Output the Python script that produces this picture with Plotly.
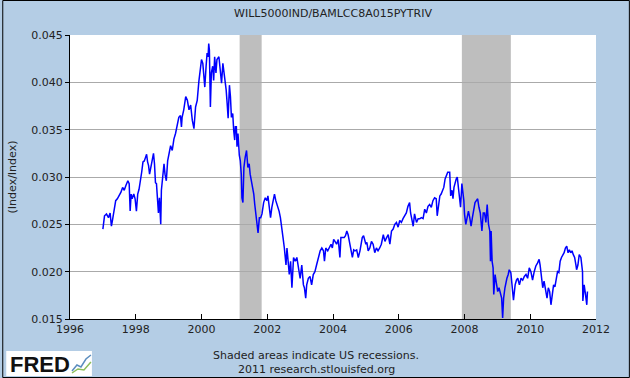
import plotly.graph_objects as go

title_text = "WILL5000IND/BAMLCC8A015PYTRIV"
y_label = "(Index/Index)"

years = [
1997.00,1997.02,1997.05,1997.11,1997.17,1997.22,1997.26,1997.29,1997.34,1997.39,1997.44,1997.49,1997.55,1997.60,1997.65,1997.70,1997.76,1997.80,1997.83,1997.86,1997.89,1997.94,1997.98,
1998.02,1998.06,1998.10,1998.14,1998.18,1998.22,1998.26,1998.30,1998.33,1998.36,1998.39,1998.42,1998.46,1998.51,1998.54,1998.57,1998.60,1998.63,1998.66,1998.69,1998.72,1998.76,1998.78,1998.83,1998.86,1998.89,1998.93,1998.97,
1999.01,1999.06,1999.11,1999.16,1999.21,1999.26,1999.31,1999.36,1999.39,1999.41,1999.46,1999.52,1999.57,1999.62,1999.67,1999.72,1999.77,1999.82,1999.87,1999.92,1999.97,
2000.00,2000.04,2000.07,2000.10,2000.14,2000.17,2000.20,2000.22,2000.24,2000.27,2000.30,2000.34,2000.37,2000.40,2000.44,2000.47,2000.53,2000.58,2000.61,2000.65,2000.71,2000.75,2000.78,2000.81,2000.85,2000.88,2000.91,2000.95,2000.98,
2001.01,2001.03,2001.06,2001.08,2001.11,2001.15,2001.18,2001.21,2001.23,2001.26,2001.29,2001.33,2001.37,2001.41,2001.45,2001.48,2001.54,2001.59,2001.62,2001.66,2001.72,2001.76,2001.80,2001.84,2001.89,2001.94,2001.99,
2002.02,2002.06,2002.10,2002.14,2002.19,2002.22,2002.26,2002.32,2002.36,2002.40,2002.44,2002.48,2002.52,2002.57,2002.60,2002.63,2002.67,2002.71,2002.75,2002.80,2002.85,2002.90,2002.95,
2003.00,2003.05,2003.10,2003.13,2003.17,2003.20,2003.25,2003.30,2003.35,2003.40,2003.45,2003.50,2003.55,2003.61,2003.66,2003.71,2003.74,2003.78,2003.84,2003.88,2003.94,2003.98,
2004.02,2004.06,2004.11,2004.16,2004.21,2004.24,2004.28,2004.34,2004.38,2004.42,2004.46,2004.52,2004.55,2004.59,2004.63,2004.67,2004.72,2004.77,2004.82,2004.85,2004.89,2004.93,2004.97,
2005.00,2005.03,2005.07,2005.12,2005.17,2005.22,2005.27,2005.32,2005.37,2005.42,2005.47,2005.53,2005.58,2005.63,2005.68,2005.73,2005.78,2005.83,2005.88,2005.93,2005.98,
2006.03,2006.08,2006.13,2006.18,2006.23,2006.28,2006.33,2006.36,2006.40,2006.44,2006.48,2006.54,2006.59,2006.64,2006.69,2006.74,2006.79,2006.84,2006.89,2006.94,2006.99,
2007.04,2007.09,2007.14,2007.17,2007.21,2007.25,2007.29,2007.34,2007.37,2007.41,2007.44,2007.49,2007.55,2007.58,2007.62,2007.65,2007.68,2007.72,2007.75,2007.78,2007.82,2007.86,2007.88,2007.92,2007.95,2007.98,
2008.00,2008.04,2008.08,2008.12,2008.16,2008.20,2008.24,2008.28,2008.32,2008.36,2008.40,2008.44,2008.48,2008.53,2008.57,2008.61,2008.65,2008.69,2008.73,2008.77,2008.79,2008.81,2008.84,2008.87,2008.89,2008.93,2008.97,
2009.01,2009.05,2009.09,2009.13,2009.16,2009.19,2009.23,2009.26,2009.29,2009.33,2009.36,2009.41,2009.46,2009.49,2009.54,2009.58,2009.62,2009.67,2009.72,2009.77,2009.82,2009.87,2009.92,2009.97,
2010.02,2010.07,2010.12,2010.17,2010.22,2010.27,2010.30,2010.34,2010.38,2010.42,2010.46,2010.51,2010.55,2010.59,2010.63,2010.67,2010.71,2010.75,2010.79,2010.83,2010.87,2010.91,2010.95,2010.99,
2011.03,2011.07,2011.11,2011.15,2011.19,2011.23,2011.27,2011.31,2011.35,2011.39,2011.41,2011.45,2011.49,2011.54,2011.57,2011.59,2011.60,2011.64,2011.68,2011.70,2011.72,2011.74,
]

ratio = [
0.0245,0.0250,0.0259,0.0261,0.0257,0.0262,0.0248,0.0254,0.0266,0.0275,0.0277,0.0280,0.0284,0.0289,0.0286,0.0291,0.0296,0.0293,0.0264,0.0282,0.0277,0.0282,0.0277,
0.0264,0.0282,0.0287,0.0294,0.0305,0.0316,0.0317,0.0321,0.0324,0.0316,0.0312,0.0303,0.0310,0.0321,0.0325,0.0314,0.0294,0.0293,0.0271,0.0262,0.0278,0.0250,0.0286,0.0307,0.0314,0.0303,0.0296,0.0317,
0.0325,0.0333,0.0328,0.0340,0.0346,0.0353,0.0363,0.0365,0.0353,0.0363,0.0371,0.0385,0.0381,0.0371,0.0376,0.0360,0.0351,0.0374,0.0381,0.0401,0.0413,
0.0424,0.0420,0.0402,0.0395,0.0417,0.0431,0.0427,0.0441,0.0434,0.0374,0.0410,0.0417,0.0402,0.0427,0.0410,0.0424,0.0427,0.0410,0.0399,0.0420,0.0406,0.0392,0.0378,0.0362,0.0397,0.0385,0.0363,0.0367,0.0349,
0.0339,0.0353,0.0353,0.0332,0.0346,0.0323,0.0317,0.0303,0.0278,0.0273,0.0310,0.0321,0.0328,0.0310,0.0314,0.0303,0.0291,0.0282,0.0271,0.0257,0.0241,0.0257,0.0257,0.0261,0.0273,0.0278,0.0275,
0.0280,0.0264,0.0257,0.0268,0.0278,0.0282,0.0275,0.0269,0.0264,0.0257,0.0243,0.0236,0.0225,0.0207,0.0225,0.0215,0.0197,0.0211,0.0183,0.0215,0.0211,0.0215,0.0204,
0.0193,0.0207,0.0186,0.0183,0.0172,0.0186,0.0193,0.0195,0.0186,0.0197,0.0200,0.0207,0.0215,0.0222,0.0225,0.0222,0.0211,0.0225,0.0222,0.0225,0.0229,0.0225,
0.0234,0.0232,0.0229,0.0234,0.0215,0.0236,0.0236,0.0236,0.0238,0.0243,0.0239,0.0229,0.0222,0.0215,0.0223,0.0222,0.0223,0.0215,0.0222,0.0229,0.0236,0.0238,0.0232,
0.0229,0.0231,0.0222,0.0225,0.0232,0.0229,0.0220,0.0225,0.0222,0.0225,0.0229,0.0239,0.0232,0.0236,0.0239,0.0229,0.0243,0.0245,0.0250,0.0252,0.0247,
0.0254,0.0252,0.0256,0.0259,0.0262,0.0269,0.0273,0.0262,0.0256,0.0248,0.0261,0.0252,0.0256,0.0256,0.0257,0.0256,0.0266,0.0262,0.0269,0.0271,0.0268,
0.0275,0.0278,0.0277,0.0259,0.0271,0.0280,0.0282,0.0286,0.0289,0.0298,0.0301,0.0305,0.0305,0.0280,0.0286,0.0277,0.0289,0.0296,0.0298,0.0300,0.0289,0.0275,0.0268,0.0293,0.0286,0.0275,
0.0261,0.0250,0.0257,0.0264,0.0257,0.0248,0.0257,0.0268,0.0273,0.0275,0.0277,0.0268,0.0262,0.0243,0.0262,0.0262,0.0252,0.0271,0.0250,0.0243,0.0211,0.0243,0.0211,0.0204,0.0176,0.0197,0.0186,
0.0179,0.0183,0.0176,0.0172,0.0151,0.0172,0.0183,0.0191,0.0193,0.0197,0.0202,0.0199,0.0179,0.0170,0.0186,0.0191,0.0193,0.0186,0.0193,0.0191,0.0195,0.0197,0.0193,0.0204,
0.0200,0.0191,0.0200,0.0206,0.0209,0.0213,0.0207,0.0193,0.0183,0.0190,0.0181,0.0172,0.0183,0.0179,0.0165,0.0176,0.0186,0.0184,0.0191,0.0200,0.0199,0.0211,0.0215,0.0218,
0.0220,0.0225,0.0227,0.0220,0.0223,0.0220,0.0222,0.0218,0.0215,0.0207,0.0202,0.0207,0.0218,0.0215,0.0204,0.0200,0.0169,0.0186,0.0176,0.0172,0.0165,0.0179,
]

recession_start = [2001.16, 2007.92]
recession_end = [2001.83, 2009.41]

x_ticks = [1996, 1998, 2000, 2002, 2004, 2006, 2008, 2010, 2012]
y_ticks = [0.015, 0.020, 0.025, 0.030, 0.035, 0.040, 0.045]

BG = "#B4CDE5"
FONT = "DejaVu Sans"

fig = go.Figure()
fig.add_trace(go.Scatter(x=years, y=ratio, mode="lines",
                         line=dict(color="#0000FF", width=1.5),
                         hoverinfo="skip", showlegend=False))

for s, e in zip(recession_start, recession_end):
    fig.add_shape(type="rect", xref="x", yref="paper", x0=s, x1=e, y0=0, y1=1,
                  fillcolor="#BEBEBE", line=dict(width=0), layer="between")

L, R, T, B = 68, 34, 35, 59
W, H = 630, 378
pw, ph = W - L - R, H - T - B

# outer border
fig.add_shape(type="rect", xref="paper", yref="paper",
              x0=(-L + 0.5) / pw, x1=1 + (R - 0.5) / pw,
              y0=(-B + 0.5) / ph, y1=1 + (T - 0.5) / ph,
              line=dict(color="#000000", width=1), fillcolor="rgba(0,0,0,0)", layer="above")

# FRED logo box
fig.add_shape(type="rect", xref="paper", yref="paper",
              x0=(4 - L) / pw, x1=(90 - L) / pw,
              y0=1 - (376 - T) / ph, y1=1 - (351 - T) / ph,
              fillcolor="#FFFFFF", line=dict(width=0), layer="above")
# small chart icon of the logo
fig.add_shape(type="path", xref="paper", yref="paper",
              path="M {} {} L {} {} L {} {} L {} {} L {} {}".format(
                  (70 - L) / pw, 1 - (371 - T) / ph,
                  (75 - L) / pw, 1 - (365 - T) / ph,
                  (79 - L) / pw, 1 - (367 - T) / ph,
                  (84 - L) / pw, 1 - (359 - T) / ph,
                  (89 - L) / pw, 1 - (355 - T) / ph),
              line=dict(color="#5B8DBE", width=1.5), layer="above")
fig.add_shape(type="path", xref="paper", yref="paper",
              path="M {} {} L {} {} L {} {} L {} {}".format(
                  (70 - L) / pw, 1 - (373 - T) / ph,
                  (76 - L) / pw, 1 - (369 - T) / ph,
                  (82 - L) / pw, 1 - (370 - T) / ph,
                  (89 - L) / pw, 1 - (362 - T) / ph),
              line=dict(color="#8DBE5B", width=1.5), layer="above")

fig.add_annotation(text="<b>FRED</b>", xref="paper", yref="paper",
                   x=(6 - L) / pw, y=1 - (364 - T) / ph, xanchor="left", yanchor="middle",
                   showarrow=False, font=dict(family="Liberation Sans", size=22, color="#111111"))
fig.add_annotation(text="Shaded areas indicate US recessions.", xref="paper", yref="paper",
                   x=(315 - L) / pw, y=1 - (355 - T) / ph, xanchor="center", yanchor="middle",
                   showarrow=False, font=dict(family=FONT, size=11, color="#222222"))
fig.add_annotation(text="2011 research.stlouisfed.org", xref="paper", yref="paper",
                   x=(315 - L) / pw, y=1 - (369 - T) / ph, xanchor="center", yanchor="middle",
                   showarrow=False, font=dict(family=FONT, size=11, color="#222222"))

fig.update_layout(
    width=W, height=H,
    margin=dict(l=L, r=R, t=T, b=B),
    paper_bgcolor=BG, plot_bgcolor="#FFFFFF",
    font=dict(family=FONT, size=11, color="#222222"),
    title=dict(text=title_text, x=0.5, xref="paper", y=1 - 13 / H, yref="container",
               xanchor="center", yanchor="middle", font=dict(family=FONT, size=11, color="#222222")),
    showlegend=False,
    hovermode=False,
)
fig.update_xaxes(range=[1996, 2012], tickvals=x_ticks, ticktext=[str(t) for t in x_ticks],
                 showgrid=False, zeroline=False, showline=True, linecolor="#000000", linewidth=1,
                 ticks="inside", ticklen=5, tickcolor="#000000", tickwidth=1,
                 tickfont=dict(family=FONT, size=11, color="#222222"))
fig.update_yaxes(range=[0.015, 0.045], tickvals=y_ticks, ticktext=["%.3f" % v for v in y_ticks],
                 showgrid=True, gridcolor="#AAAAAA", gridwidth=1, zeroline=False,
                 showline=True, linecolor="#000000", linewidth=1,
                 ticks="outside", ticklen=4, tickcolor="#000000", tickwidth=1,
                 tickfont=dict(family=FONT, size=11, color="#222222"),
                 title=dict(text=y_label, standoff=12, font=dict(family=FONT, size=11, color="#222222")))

fig.write_html("out.html", config={"displayModeBar": False},
               post_script="document.body.style.margin='0px';document.body.style.overflow='hidden';")
